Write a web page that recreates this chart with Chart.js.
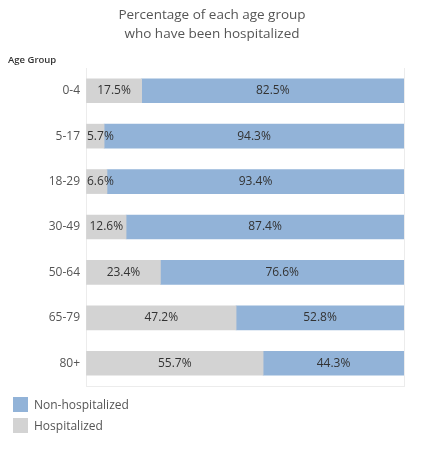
<!DOCTYPE html>
<html lang="en">
<head>
  <meta charset="UTF-8" />
  <title>Hospitalized by age group</title>
  <script src="https://cdn.jsdelivr.net/npm/chart.js"></script>
  <style>
    body { margin: 0; background: #fff; font-family: "Open Sans", sans-serif; color: #555; }
    #wrap { position: relative; width: 424px; height: 449px; }
    #title { position: absolute; left: 0; width: 424px; top: 5px; text-align: center; font-size: 13.5px; line-height: 19px; color: #555; }
    #ylabel { position: absolute; left: 8px; top: 53px; font-size: 9.5px; font-weight: 600; color: #333; }
    #legend { position: absolute; left: 13px; top: 394px; font-size: 12px; color: #555; }
    .item { display: flex; align-items: center; height: 21px; }
    .sw { width: 15px; height: 15px; margin-right: 6px; }
  </style>
</head>
<body>
  <div id="wrap">
    <canvas id="chart" width="424" height="449"></canvas>
    <div id="title">Percentage of each age group<br>who have been hospitalized</div>
    <div id="ylabel">Age Group</div>
    <div id="legend">
      <div class="item"><div class="sw" style="background:#92b3d8"></div>Non-hospitalized</div>
      <div class="item"><div class="sw" style="background:#d3d3d3"></div>Hospitalized</div>
    </div>
  </div>

  <script>
    const ageGroups = ['0-4', '5-17', '18-29', '30-49', '50-64', '65-79', '80+'];
    const hospitalized = [17.5, 5.7, 6.6, 12.6, 23.4, 47.2, 55.7];
    const nonHospitalized = [82.5, 94.3, 93.4, 87.4, 76.6, 52.8, 44.3];

    // draws the percentage inside each segment, pushed right if it would spill past the left edge
    const segmentLabels = {
      id: 'segmentLabels',
      afterDatasetsDraw(chart) {
        const ctx = chart.ctx;
        ctx.save();
        ctx.font = '12px "Open Sans", sans-serif';
        ctx.fillStyle = '#333';
        ctx.textBaseline = 'middle';
        chart.data.datasets.forEach((ds, i) => {
          chart.getDatasetMeta(i).data.forEach((bar, j) => {
            const txt = ds.data[j].toFixed(1) + '%';
            const w = ctx.measureText(txt).width;
            const left = Math.min(bar.x, bar.base);
            const right = Math.max(bar.x, bar.base);
            let x = (left + right) / 2 - w / 2;
            if (x < chart.chartArea.left + 1) x = chart.chartArea.left + 1;
            ctx.fillText(txt, x, bar.y);
          });
        });
        ctx.restore();
      }
    };

    new Chart(document.getElementById('chart').getContext('2d'), {
      type: 'bar',
      data: {
        labels: ageGroups,
        datasets: [
          { label: 'Hospitalized', data: hospitalized, backgroundColor: '#d3d3d3', barThickness: 24 },
          { label: 'Non-hospitalized', data: nonHospitalized, backgroundColor: '#92b3d8', barThickness: 24 }
        ]
      },
      options: {
        indexAxis: 'y',
        responsive: false,
        animation: false,
        layout: { padding: { top: 68, right: 20, bottom: 63, left: 0 } },
        plugins: {
          legend: { display: false },
          tooltip: { enabled: false }
        },
        scales: {
          x: {
            stacked: true,
            min: 0,
            max: 100,
            ticks: { display: false, stepSize: 100 },
            grid: { color: '#ececec', drawTicks: false },
            border: { color: '#ececec' }
          },
          y: {
            stacked: true,
            grid: { display: false, drawTicks: false },
            border: { display: false },
            ticks: { color: '#555', font: { size: 12, family: '"Open Sans", sans-serif' }, padding: 6 },
            afterFit(scale) { scale.width = 86; }
          }
        }
      },
      plugins: [segmentLabels]
    });
  </script>
</body>
</html>
